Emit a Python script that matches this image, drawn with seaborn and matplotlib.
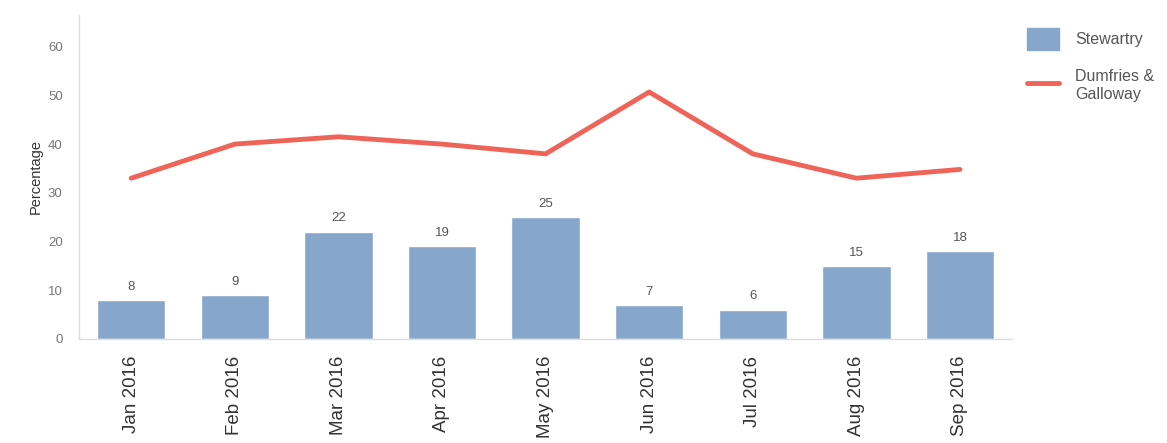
import pandas as pd
import matplotlib.pyplot as plt
import seaborn as sns
from matplotlib.patches import Patch
from matplotlib.lines import Line2D

months = ["Jan 2016", "Feb 2016", "Mar 2016", "Apr 2016", "May 2016",
          "Jun 2016", "Jul 2016", "Aug 2016", "Sep 2016"]
stewartry = [8, 9, 22, 19, 25, 7, 6, 15, 18]
dumfries = [33, 40, 41.5, 40, 38, 50.7, 38, 33, 34.8]

BAR_COL = "#87a6cc"
LINE_COL = "#ef6459"

df = pd.DataFrame({"month": months, "Stewartry": stewartry, "Dumfries": dumfries})

sns.set_theme(style="white")
plt.rcParams["font.family"] = ["Liberation Sans", "DejaVu Sans"]

fig = plt.figure(figsize=(11.67, 4.43), dpi=100)
ax = fig.add_axes([0.068, 0.235, 0.799, 0.731])

sns.barplot(data=df, x="month", y="Stewartry", color=BAR_COL, width=0.66,
            saturation=1, ax=ax)
sns.lineplot(x=range(len(months)), y=dumfries, color=LINE_COL, linewidth=3.5,
             ax=ax, sort=False)

for i, v in enumerate(stewartry):
    ax.text(i, v + 1.5, str(v), ha="center", va="bottom", fontsize=9.5, color="#555555")

ax.set_xlim(-0.5, 8.5)
ax.set_ylim(0, 66.5)
ax.set_yticks([0, 10, 20, 30, 40, 50, 60])
ax.set_xlabel("")
ax.set_ylabel("Percentage", fontsize=10.5, color="#333333")
ax.tick_params(axis="y", labelsize=9.5, labelcolor="#777777", length=0, pad=12)
ax.tick_params(axis="x", labelsize=13.5, labelcolor="#333333", length=0, rotation=90, pad=12)

for s in ["top", "right"]:
    ax.spines[s].set_visible(False)
for s in ["left", "bottom"]:
    ax.spines[s].set_color("#dddddd")
    ax.spines[s].set_linewidth(1)

handles = [Patch(facecolor=BAR_COL, edgecolor=BAR_COL, label="Stewartry"),
           Line2D([0], [0], color=LINE_COL, linewidth=3.5, label="Dumfries &\nGalloway")]
leg = fig.legend(handles=handles, loc="upper left", bbox_to_anchor=(0.868, 0.97),
                 frameon=False, fontsize=11.5, labelspacing=1.2, handlelength=2.0,
                 handleheight=1.8, handletextpad=1.0)
for t in leg.get_texts():
    t.set_color("#555555")

fig.savefig("out.png", dpi=100)
